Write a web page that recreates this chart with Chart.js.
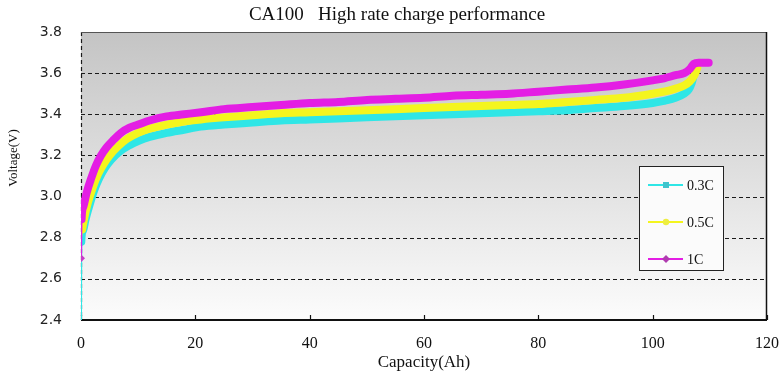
<!DOCTYPE html>
<html>
<head>
<meta charset="utf-8">
<script src="https://cdn.jsdelivr.net/npm/chart.js@4"></script>
<style>
  html, body { margin: 0; padding: 0; background: #ffffff; }
  #wrap { width: 783px; height: 375px; }
</style>
</head>
<body>
<div id="wrap"><canvas id="c" width="783" height="375"></canvas></div>
<script>
// ---- data ----
const seriesLabels = ['0.3C', '0.5C', '1C'];

const capacity03 = [0, 0.05, 0.3, 0.8, 1.5, 2.3, 3.2, 4.2, 5.3, 6.8, 8.5, 10, 12, 15, 18, 21, 25, 30, 35, 40, 45, 50, 55, 60, 65, 70, 75, 80, 85, 90, 95, 100, 102, 104, 105.5, 106.3, 106.8, 107.1];
const voltage03  = [2.40, 2.78, 2.83, 2.89, 2.96, 3.03, 3.09, 3.14, 3.18, 3.22, 3.25, 3.27, 3.29, 3.31, 3.325, 3.34, 3.35, 3.36, 3.37, 3.375, 3.38, 3.385, 3.39, 3.395, 3.40, 3.405, 3.41, 3.415, 3.42, 3.43, 3.44, 3.455, 3.465, 3.48, 3.50, 3.52, 3.55, 3.58];

const capacity05 = [0, 0.2, 0.6, 1.2, 2, 3, 4, 5, 6.5, 8, 10, 12, 15, 18, 21, 25, 30, 35, 40, 45, 50, 55, 60, 65, 70, 75, 80, 85, 90, 95, 100, 102, 104, 105.5, 106.5, 107.3, 107.8];
const voltage05  = [2.80, 2.84, 2.90, 2.97, 3.04, 3.11, 3.16, 3.20, 3.245, 3.28, 3.31, 3.33, 3.35, 3.365, 3.375, 3.385, 3.395, 3.405, 3.41, 3.415, 3.42, 3.425, 3.43, 3.435, 3.44, 3.445, 3.45, 3.46, 3.47, 3.48, 3.50, 3.51, 3.525, 3.54, 3.56, 3.59, 3.625];

const capacity1 = [0, 0.1, 0.4, 1, 1.8, 2.6, 3.5, 4.5, 5.5, 7, 8.5, 10, 12, 15, 18, 21, 25, 30, 35, 40, 45, 50, 55, 60, 65, 70, 75, 80, 85, 90, 95, 100, 102, 104, 105.5, 106.5, 107.2, 108, 109, 109.8];
const voltage1  = [2.70, 2.89, 2.95, 3.02, 3.09, 3.15, 3.20, 3.24, 3.27, 3.31, 3.335, 3.35, 3.37, 3.39, 3.40, 3.41, 3.425, 3.435, 3.445, 3.455, 3.46, 3.47, 3.475, 3.48, 3.49, 3.495, 3.50, 3.51, 3.52, 3.53, 3.545, 3.565, 3.575, 3.59, 3.60, 3.62, 3.645, 3.65, 3.65, 3.65];

const xTickValues = [0, 20, 40, 60, 80, 100, 120];
const yTickValues = [2.4, 2.6, 2.8, 3.0, 3.2, 3.4, 3.6, 3.8];

const titleText = 'CA100   High rate charge performance';
const xTitle = 'Capacity(Ah)';
const yTitle = 'Voltage(V)';

// ---- build ----
function pts(xs, ys) { return xs.map((x, i) => ({ x: x, y: ys[i] })); }

const colors = ['#2fe6e6', '#f4f51e', '#e41ee4'];
const markerColors = ['#40c4cc', '#eeee40', '#b03cb0'];
const markerStyles = ['rect', 'circle', 'rectRot'];

const bgPlugin = {
  id: 'bgPlugin',
  beforeDatasetsDraw(chart) {
    const { ctx, chartArea: a, scales } = chart;
    ctx.save();
    const g = ctx.createLinearGradient(0, a.top, 0, a.bottom);
    g.addColorStop(0, '#c4c4c4');
    g.addColorStop(1, '#fcfcfc');
    ctx.fillStyle = g;
    ctx.fillRect(a.left, a.top, a.right - a.left, a.bottom - a.top);
    ctx.strokeStyle = '#1a1a1a';
    ctx.lineWidth = 1.2;
    ctx.setLineDash([4, 3]);
    yTickValues.forEach(v => {
      if (v === yTickValues[0] || v === yTickValues[yTickValues.length - 1]) return;
      const y = Math.round(scales.y.getPixelForValue(v)) + 0.5;
      ctx.beginPath(); ctx.moveTo(a.left, y); ctx.lineTo(a.right, y); ctx.stroke();
    });
    ctx.beginPath(); ctx.moveTo(a.left + 0.5, a.top); ctx.lineTo(a.left + 0.5, a.bottom); ctx.stroke();
    ctx.setLineDash([]);
    ctx.strokeStyle = '#555555';
    ctx.lineWidth = 1;
    ctx.beginPath(); ctx.moveTo(a.left, a.top + 0.5); ctx.lineTo(a.right, a.top + 0.5); ctx.stroke();
    ctx.strokeStyle = '#111111';
    ctx.lineWidth = 1.5;
    ctx.beginPath(); ctx.moveTo(a.right - 0.5, a.top); ctx.lineTo(a.right - 0.5, a.bottom); ctx.stroke();
    ctx.lineWidth = 2;
    ctx.beginPath(); ctx.moveTo(a.left, a.bottom); ctx.lineTo(a.right, a.bottom); ctx.stroke();
    ctx.lineWidth = 1.2;
    xTickValues.forEach(v => {
      const x = Math.round(scales.x.getPixelForValue(v)) + 0.5;
      ctx.beginPath(); ctx.moveTo(x, a.bottom); ctx.lineTo(x, a.bottom - 5); ctx.stroke();
    });
    ctx.restore();
  }
};

const textPlugin = {
  id: 'textPlugin',
  afterDraw(chart) {
    const { ctx } = chart;
    ctx.save();
    ctx.fillStyle = '#111111';
    ctx.textAlign = 'center';
    ctx.textBaseline = 'middle';
    ctx.font = '19px "Liberation Serif", serif';
    ctx.fillText(titleText, 397, 15);
    ctx.translate(14, 158);
    ctx.rotate(-Math.PI / 2);
    ctx.font = '13px "Liberation Serif", serif';
    ctx.fillText(yTitle, 0, 0);
    ctx.restore();
  }
};

const legendPlugin = {
  id: 'boxLegend',
  afterDraw(chart) {
    const { ctx } = chart;
    const x0 = 639, y0 = 166, w = 84, h = 104;
    ctx.save();
    ctx.fillStyle = '#fbfbfb';
    ctx.fillRect(x0, y0, w, h);
    ctx.strokeStyle = '#222222';
    ctx.lineWidth = 1;
    ctx.strokeRect(x0 + 0.5, y0 + 0.5, w, h);
    chart.data.datasets.forEach((ds, i) => {
      const y = y0 + 19 + i * 37;
      ctx.strokeStyle = ds.borderColor;
      ctx.lineWidth = 2;
      ctx.beginPath(); ctx.moveTo(x0 + 9, y); ctx.lineTo(x0 + 44, y); ctx.stroke();
      ctx.fillStyle = markerColors[i];
      ctx.beginPath();
      const mx = x0 + 27;
      if (i === 0) { ctx.rect(mx - 3, y - 3, 6, 6); }
      else if (i === 1) { ctx.arc(mx, y, 3.2, 0, Math.PI * 2); }
      else { ctx.moveTo(mx, y - 4); ctx.lineTo(mx + 4, y); ctx.lineTo(mx, y + 4); ctx.lineTo(mx - 4, y); ctx.closePath(); }
      ctx.fill();
      ctx.fillStyle = '#111111';
      ctx.font = '14px "Liberation Serif", serif';
      ctx.textBaseline = 'middle';
      ctx.textAlign = 'left';
      ctx.fillText(ds.label, x0 + 48, y + 1);
    });
    ctx.restore();
  }
};

const series = [
  { xs: capacity03, ys: voltage03, order: 2 },
  { xs: capacity05, ys: voltage05, order: 1 },
  { xs: capacity1,  ys: voltage1,  order: 0 }
];

const datasets = series.map((s, i) => ({
  label: seriesLabels[i],
  data: pts(s.xs, s.ys),
  order: s.order,
  borderColor: colors[i],
  backgroundColor: colors[i],
  borderWidth: 8,
  borderJoinStyle: 'round',
  borderCapStyle: 'round',
  cubicInterpolationMode: 'monotone',
  pointStyle: markerStyles[i],
  pointRadius: ctx => (i === 2 && ctx.dataIndex === 0) ? 4 : 0,
  pointBackgroundColor: i === 2 ? '#c83cc8' : colors[i],
  pointBorderWidth: 0,
  segment: {
    borderWidth: ctx => ctx.p0DataIndex === 0 ? 2 : 8
  }
}));

new Chart(document.getElementById('c'), {
  type: 'line',
  data: { datasets: datasets },
  plugins: [bgPlugin, legendPlugin, textPlugin],
  options: {
    responsive: false,
    animation: false,
    layout: { padding: { left: 0, right: 0, top: 32, bottom: 0 } },
    plugins: {
      legend: { display: false },
      tooltip: { enabled: false },
      title: { display: false }
    },
    scales: {
      x: {
        type: 'linear',
        min: 0, max: 120,
        afterFit: s => { s.height = 55; s.paddingRight = 16; s.paddingLeft = 0; },
        afterBuildTicks: s => { s.ticks = xTickValues.map(v => ({ value: v })); },
        grid: { display: true, drawOnChartArea: false, drawTicks: false, color: 'rgba(0,0,0,0)' },
        border: { display: false },
        ticks: {
          padding: 14,
          color: '#111111',
          maxRotation: 0,
          font: { family: '"Liberation Serif", serif', size: 16 },
          callback: v => String(v)
        },
        title: {
          display: true, text: xTitle, color: '#111111',
          font: { family: '"Liberation Serif", serif', size: 17 },
          padding: { top: 0, bottom: 2 }
        }
      },
      y: {
        type: 'linear',
        min: 2.4, max: 3.8,
        afterFit: s => { s.width = 81; s.paddingTop = 0; s.paddingBottom = 0; },
        afterBuildTicks: s => { s.ticks = yTickValues.map(v => ({ value: v })); },
        grid: { display: true, drawOnChartArea: false, drawTicks: false, color: 'rgba(0,0,0,0)' },
        border: { display: false },
        ticks: {
          padding: 19,
          color: '#222222',
          font: { family: '"DejaVu Sans", sans-serif', size: 14 },
          callback: v => Number(v).toFixed(1)
        },
        title: { display: false }
      }
    }
  }
});
</script>
</body>
</html>
